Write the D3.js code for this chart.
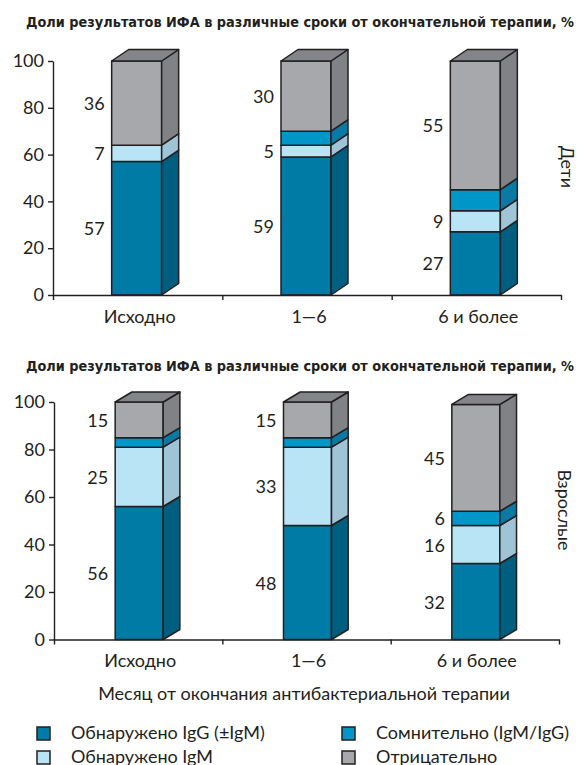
<!DOCTYPE html>
<html><head><meta charset="utf-8">
<script src="https://cdn.jsdelivr.net/npm/d3@7"></script>
<style>
html,body{margin:0;padding:0;background:#fff;}
svg{display:block;}
text{font-family:Lato,"Open Sans",sans-serif;fill:#231f20;}
.title{font-family:"Liberation Sans Narrow","DejaVu Sans Condensed","Roboto Condensed",sans-serif;font-weight:bold;font-stretch:condensed;}
</style></head><body>
<svg id="chart" width="582" height="765"></svg>
<script>
// ---------- data ----------
const categories = ["Исходно", "1—6", "6 и более"];
const seriesNames = ["Обнаружено IgG (±IgM)", "Обнаружено IgM", "Сомнительно (IgM/IgG)", "Отрицательно"];
const titleText = "Доли результатов ИФА в различные сроки от окончательной терапии, %";
const xAxisTitle = "Месяц от окончания антибактериальной терапии";
const yTicks = [0, 20, 40, 60, 80, 100];

// Дети (children): per category [IgG, IgM, doubtful, negative]
const childIgG      = [57, 59, 27];
const childIgM      = [7, 5, 9];
const childDoubtful = [0, 6, 9];
const childNegative = [36, 30, 55];
const childShowLabel = [[true, true, false, true], [true, true, false, true], [true, true, false, true]];

// Взрослые (adults)
const adultIgG      = [56, 48, 32];
const adultIgM      = [25, 33, 16];
const adultDoubtful = [4, 4, 6];
const adultNegative = [15, 15, 45];
const adultShowLabel = [[true, true, false, true], [true, true, false, true], [true, true, true, true]];

const frontColors = ["#007ba5", "#b9e4f6", "#0096c8", "#a7a8ab"];
const sideColors  = ["#005f80", "#9ec4d6", "#0a7aa5", "#818285"];
const topColor = "#848588";
const ink = "#231f20";

const svg = d3.select("#chart");

function drawPanel(cfg) {
  const g = svg.append("g");
  const xEdge = d3.scaleLinear().domain([0, categories.length]).range([cfg.x0, cfg.x1]);
  const xBand = d3.scaleBand().domain(categories).range([cfg.x0, cfg.x1]);
  const y = d3.scaleLinear().domain([0, 100]).range([cfg.yBottom, cfg.yTop]);

  // title
  g.append("text").attr("class", "title")
    .attr("x", 26).attr("y", cfg.titleY)
    .attr("font-size", 14.5)
    .attr("textLength", 548).attr("lengthAdjust", "spacingAndGlyphs")
    .text(titleText);

  // bars
  const w = cfg.barW, dx = cfg.dx, dy = cfg.dy;
  categories.forEach((c, i) => {
    const vals = cfg.series.map(s => s[i]);
    const xl = xBand(c) + xBand.bandwidth() / 2 - w / 2 + cfg.barShift;
    let cum = 0;
    const segs = vals.map((v, k) => { const s = {k, v, lo: cum, hi: cum + v}; cum += v; return s; });
    const bg = g.append("g");
    segs.filter(s => s.v > 0).forEach(s => {
      const yb = y(s.lo), yt = y(s.hi);
      bg.append("rect").attr("x", xl).attr("y", yt).attr("width", w).attr("height", yb - yt)
        .attr("fill", frontColors[s.k]).attr("stroke", ink).attr("stroke-width", 1.5).attr("stroke-linejoin", "round");
      bg.append("path")
        .attr("d", `M${xl + w},${yb}L${xl + w + dx},${yb - dy}L${xl + w + dx},${yt - dy}L${xl + w},${yt}Z`)
        .attr("fill", sideColors[s.k]).attr("stroke", ink).attr("stroke-width", 1.5).attr("stroke-linejoin", "round");
    });
    const yTopBar = y(cum);
    bg.append("path")
      .attr("d", `M${xl},${yTopBar}L${xl + dx},${yTopBar - dy}L${xl + w + dx},${yTopBar - dy}L${xl + w},${yTopBar}Z`)
      .attr("fill", topColor).attr("stroke", ink).attr("stroke-width", 1.5).attr("stroke-linejoin", "round");
    // value labels
    segs.forEach(s => {
      if (!cfg.showLabel[i][s.k]) return;
      g.append("text").attr("x", xl - 7).attr("y", y((s.lo + s.hi) / 2))
        .attr("text-anchor", "end").attr("dominant-baseline", "central")
        .attr("font-size", 18).text(s.v);
    });
  });

  // y axis
  const ya = g.append("g").attr("transform", `translate(${cfg.x0},0)`)
    .call(d3.axisLeft(y).tickValues(yTicks).tickSize(5).tickPadding(4).tickSizeOuter(0));
  ya.selectAll("text").attr("font-size", 18).style("font-family", "Lato,'Open Sans',sans-serif").attr("fill", ink);
  ya.selectAll("line,path").attr("stroke", ink).attr("stroke-width", 1.4);

  // x axis (boundary ticks)
  const xa = g.append("g").attr("transform", `translate(0,${cfg.yBottom})`)
    .call(d3.axisBottom(xEdge).tickValues(d3.range(categories.length + 1)).tickFormat("").tickSize(5).tickSizeOuter(0));
  xa.selectAll("line,path").attr("stroke", ink).attr("stroke-width", 1.4);

  // category labels
  const xl2 = g.append("g").attr("transform", `translate(0,${cfg.yBottom})`)
    .call(d3.axisBottom(xBand).tickSize(0).tickPadding(cfg.catPad));
  xl2.select(".domain").remove();
  xl2.selectAll("text").attr("font-size", 18).style("font-family", "Lato,'Open Sans',sans-serif").attr("fill", ink)
    .attr("dx", cfg.catShift);

  // side label
  g.append("text").attr("transform", `translate(${cfg.sideX},${cfg.sideY}) rotate(90)`)
    .attr("text-anchor", "middle").attr("dominant-baseline", "central")
    .attr("font-size", 18).text(cfg.sideLabel);
}

drawPanel({
  titleY: 27, x0: 53, x1: 561, yBottom: 295, yTop: 61,
  barW: 50, dx: 17, dy: 11.5, barShift: -1, catPad: 15, catShift: 2,
  series: [childIgG, childIgM, childDoubtful, childNegative],
  showLabel: childShowLabel, sideLabel: "Дети", sideX: 568, sideY: 167
});
drawPanel({
  titleY: 370.5, x0: 54, x1: 559, yBottom: 639.5, yTop: 402,
  barW: 48, dx: 16.7, dy: 10, barShift: 1, catPad: 15, catShift: 2,
  series: [adultIgG, adultIgM, adultDoubtful, adultNegative],
  showLabel: adultShowLabel, sideLabel: "Взрослые", sideX: 565, sideY: 510
});

// x axis title
svg.append("text").attr("x", 304).attr("y", 700).attr("text-anchor", "middle")
  .attr("font-size", 18).text(xAxisTitle);

// legend
const legPos = [[37, 727], [37, 751], [342, 727], [342, 751]];
const legOrder = [0, 1, 2, 3];
legOrder.forEach((k, j) => {
  const [lx, ly] = legPos[j];
  svg.append("rect").attr("x", lx).attr("y", ly).attr("width", 13).attr("height", 13)
    .attr("fill", frontColors[k]).attr("stroke", ink).attr("stroke-width", 1.5);
  svg.append("text").attr("x", lx + 34).attr("y", ly + 11.5).attr("font-size", 18).text(seriesNames[k]);
});
</script>
</body></html>
